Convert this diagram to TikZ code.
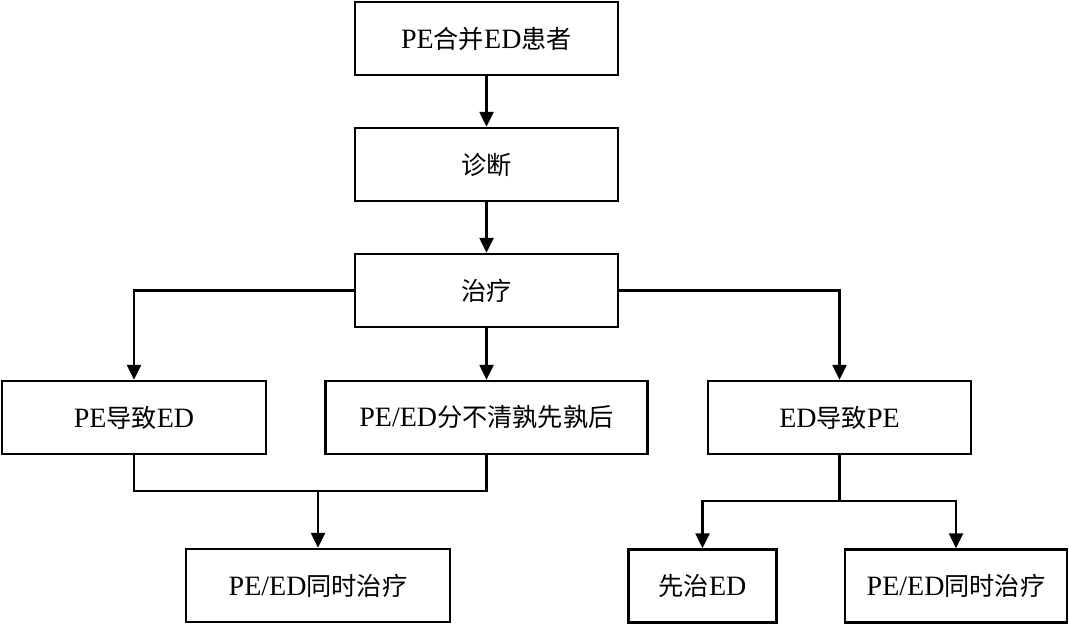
\documentclass[tikz,border=0pt]{standalone}
\usepackage{fontspec}
\setmainfont{Liberation Serif}
\newfontfamily\cjk[Scale=0.9]{Noto Sans CJK SC}
\usetikzlibrary{arrows.meta}
\newcommand{\zh}[1]{{\cjk #1}}

\begin{document}
\begin{tikzpicture}[x=0.5pt, y=-0.5pt,
  box/.style={draw, line width=1.2pt, minimum height=36.5pt, inner sep=0pt,
    font=\fontsize{14}{16}\selectfont},
  line/.style={line width=1.2pt},
  arr/.style={line width=1.2pt, -{Triangle[length=7.5pt, width=7pt]}}]
\useasboundingbox (0, 0) rectangle (1069, 625);

\node[box, minimum width=131.5pt] (pat) at (486.5, 38.5) {PE\zh{合并}ED\zh{患者}};
\node[box, minimum width=131.5pt] (diag) at (486.5, 164.5) {\zh{诊断}};
\node[box, minimum width=131.5pt] (treat) at (486.5, 290.5) {\zh{治疗}};

\node[box, minimum width=132pt] (peed) at (134, 417.5) {PE\zh{导致}ED};
\node[box, minimum width=161pt] (unclear) at (486.5, 417.5) {PE/ED\zh{分不清孰先孰后}};
\node[box, minimum width=131.5pt] (edpe) at (839.5, 417.5) {ED\zh{导致}PE};

\node[box, minimum width=132pt] (bothl) at (318, 585.5) {PE/ED\zh{同时治疗}};
\node[box, minimum width=74pt] (edfirst) at (702.5, 586) {\zh{先治}ED};
\node[box, minimum width=111pt] (bothr) at (956, 586) {PE/ED\zh{同时治疗}};

\draw[arr] (pat) -- (diag);
\draw[arr] (diag) -- (treat);
\draw[arr] (treat) -- (unclear);
\draw[arr] (treat.west) -| (peed.north);
\draw[arr] (treat.east) -| (edpe.north);

% join of the two left branches
\coordinate (join) at (318, 491);
\draw[line] (peed.south) |- (join) -| (unclear.south);
\draw[arr] (join) -- (bothl);

% split below ED -> PE
\coordinate (split) at (839.5, 501);
\draw[line] (edpe.south) -- (split);
\draw[arr] (split) -| (edfirst.north);
\draw[arr] (split) -| (bothr.north);
\end{tikzpicture}
\end{document}
